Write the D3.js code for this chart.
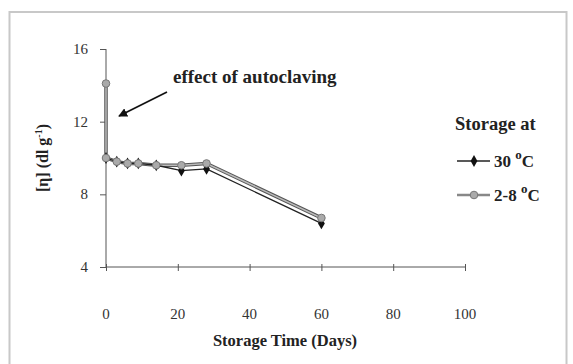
<!DOCTYPE html>
<html>
<head>
<meta charset="utf-8">
<script src="https://cdn.jsdelivr.net/npm/d3@7"></script>
<style>
  body { margin: 0; background: #fff; }
  text { font-family: "Liberation Serif", "Times New Roman", serif; }
</style>
</head>
<body>
<svg id="chart"></svg>
<script>
// Define width and height
const width = 573;
const height = 364;

// Data
const days = [0, 3, 6, 9, 14, 21, 28, 60];
const warm = [10.0, 9.8, 9.7, 9.7, 9.6, 9.3, 9.4, 6.4];     // 30 °C
const coldDays = [0, 0, 3, 6, 9, 14, 21, 28, 60];
const cold = [14.1, 10.0, 9.8, 9.7, 9.7, 9.6, 9.6, 9.7, 6.7]; // 2-8 °C
const xTicks = [0, 20, 40, 60, 80, 100];
const yTicks = [4, 8, 12, 16];

const svg = d3.select("#chart")
    .attr("width", width)
    .attr("height", height);

// Outer frame
svg.append("rect")
    .attr("x", 9.5).attr("y", 12)
    .attr("width", 557).attr("height", 360)
    .attr("fill", "none")
    .attr("stroke", "#c8c8c8")
    .attr("stroke-width", 2);

const x = d3.scaleLinear().domain([0, 100]).range([106, 465]);
const y = d3.scaleLinear().domain([4, 16]).range([267, 49]);

// Axes
const xAxis = svg.append("g")
    .attr("transform", `translate(0,${y(4)})`)
    .call(d3.axisBottom(x).tickValues(xTicks).tickSize(5).tickFormat(""));
xAxis.select(".domain").attr("d", `M${x(0)},0H${x(100)}`);
xAxis.selectAll(".tick line").attr("y1", -3).attr("y2", 4);

const yAxis = svg.append("g")
    .attr("transform", `translate(${x(0)},0)`)
    .call(d3.axisLeft(y).tickValues(yTicks).tickSize(6).tickFormat(""));
yAxis.select(".domain").attr("d", `M0,${y(16)}V${y(4)}`);
svg.selectAll(".domain, .tick line").attr("stroke", "#555").attr("stroke-width", 1);

// Tick labels (x labels sit well below the axis as in the source)
svg.append("g").selectAll("text")
    .data(xTicks).enter().append("text")
    .attr("x", d => x(d)).attr("y", 319)
    .attr("text-anchor", "middle")
    .style("font-size", "15px").style("fill", "#333")
    .text(d => d);

svg.append("g").selectAll("text")
    .data(yTicks).enter().append("text")
    .attr("x", 88).attr("y", d => y(d) + 5)
    .attr("text-anchor", "end")
    .style("font-size", "15px").style("fill", "#333")
    .text(d => d);

// Axis titles
svg.append("text")
    .attr("x", 285).attr("y", 346)
    .attr("text-anchor", "middle")
    .style("font-size", "16.5px").style("font-weight", "bold").style("fill", "#222")
    .text("Storage Time (Days)");

const yTitle = svg.append("text")
    .attr("transform", "translate(48,158) rotate(-90)")
    .attr("text-anchor", "middle")
    .style("font-size", "16px").style("font-weight", "bold").style("fill", "#222");
yTitle.append("tspan").text("[\u03B7] (dl g");
yTitle.append("tspan").attr("dy", -6).style("font-size", "10px").text("-1");
yTitle.append("tspan").attr("dy", 6).text(")");

// Lines
const line = d3.line().x(d => x(d[0])).y(d => y(d[1]));
const coldPts = coldDays.map((d, i) => [d, cold[i]]);
const warmPts = days.map((d, i) => [d, warm[i]]);

svg.append("path").datum(coldPts)
    .attr("d", line).attr("fill", "none")
    .attr("stroke", "#555").attr("stroke-width", 3.5);
svg.append("path").datum(coldPts)
    .attr("d", line).attr("fill", "none")
    .attr("stroke", "#bbb").attr("stroke-width", 1.5);
svg.append("path").datum(warmPts)
    .attr("d", line).attr("fill", "none")
    .attr("stroke", "#222").attr("stroke-width", 1.3);

// Markers
svg.append("g").selectAll("path")
    .data(warmPts).enter().append("path")
    .attr("transform", d => `translate(${x(d[0])},${y(d[1])})`)
    .attr("d", d3.symbol(d3.symbolDiamond, 40))
    .attr("fill", "#111");

svg.append("g").selectAll("circle")
    .data(coldPts).enter().append("circle")
    .attr("cx", d => x(d[0])).attr("cy", d => y(d[1]))
    .attr("r", 3.8)
    .attr("fill", "#aaa").attr("stroke", "#777").attr("stroke-width", 1);

// Annotation
svg.append("defs").append("marker")
    .attr("id", "arrow").attr("viewBox", "0 0 10 10")
    .attr("refX", 9).attr("refY", 5)
    .attr("markerWidth", 5).attr("markerHeight", 5)
    .attr("orient", "auto")
    .append("path").attr("d", "M0,0L10,5L0,10Z").attr("fill", "#111");

svg.append("line")
    .attr("x1", 167).attr("y1", 92)
    .attr("x2", 119).attr("y2", 116)
    .attr("stroke", "#111").attr("stroke-width", 1.8)
    .attr("marker-end", "url(#arrow)");

svg.append("text")
    .attr("x", 173).attr("y", 83)
    .style("font-size", "19px").style("font-weight", "bold").style("fill", "#222")
    .text("effect of autoclaving");

// Legend
svg.append("text")
    .attr("x", 455).attr("y", 130)
    .style("font-size", "18.5px").style("font-weight", "bold").style("fill", "#222")
    .text("Storage at");

const legendItems = [
    { label: "30 ", kind: "warm", yy: 161 },
    { label: "2-8 ", kind: "cold", yy: 195 }
];
legendItems.forEach(it => {
    const g = svg.append("g");
    if (it.kind === "warm") {
        g.append("line").attr("x1", 457).attr("x2", 490).attr("y1", it.yy).attr("y2", it.yy)
            .attr("stroke", "#222").attr("stroke-width", 1.3);
        g.append("path").attr("transform", `translate(474,${it.yy})`)
            .attr("d", d3.symbol(d3.symbolDiamond, 40)).attr("fill", "#111");
    } else {
        g.append("line").attr("x1", 457).attr("x2", 490).attr("y1", it.yy).attr("y2", it.yy)
            .attr("stroke", "#888").attr("stroke-width", 2.5);
        g.append("circle").attr("cx", 474).attr("cy", it.yy).attr("r", 3.8)
            .attr("fill", "#aaa").attr("stroke", "#777");
    }
    const t = g.append("text")
        .attr("x", 494).attr("y", it.yy + 6)
        .style("font-size", "17px").style("font-weight", "bold").style("fill", "#222");
    t.append("tspan").text(it.label);
    t.append("tspan").attr("dy", -8).style("font-size", "13px").text("o");
    t.append("tspan").attr("dy", 8).text("C");
});
</script>
</body>
</html>
